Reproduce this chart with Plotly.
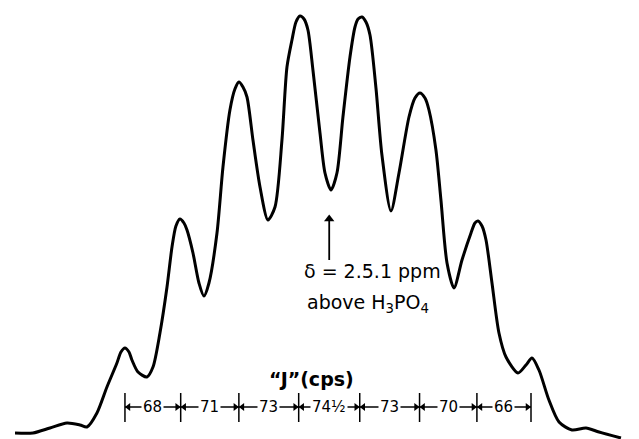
import plotly.graph_objects as go

# Traced 31P NMR multiplet: frequency offset (cps, from first marked line) and intensity (arb. units)
freq_cps = [-134.2, -112.3, -91.5, -70.8, -54.9, -46.4, -34.2, -22.0, -9.8, -4.9,
            0.0, 4.9, 8.5, 15.9, 26.8, 34.2, 42.7, 51.3, 57.4, 62.2,
            67.1, 72.0, 75.7, 83.0, 90.3, 96.4, 102.5, 112.3, 119.6, 128.1,
            134.2, 139.1, 144.0, 148.9, 156.2, 164.8, 174.5, 183.1, 191.6, 197.7,
            203.8, 208.7, 213.6, 218.5, 223.3, 229.4, 238.0, 244.1, 251.4, 258.7,
            266.0, 274.6, 280.7, 284.4, 289.3, 294.1, 299.0, 306.3, 313.6, 324.6,
            334.4, 346.6, 353.9, 360.0, 366.1, 371.0, 379.5, 385.6, 393.0, 401.5,
            411.3, 422.3, 427.1, 430.8, 435.7, 440.6, 447.9, 456.4, 465.0, 479.6,
            489.4, 496.7, 505.2, 517.4, 529.7, 545.5, 562.6, 578.5, 605.3]
intensity = [5, 5, 10, 15, 13, 11, 25, 51, 75, 86,
             90, 86, 78, 66, 61, 71, 105, 151, 191, 212,
             219, 215, 208, 185, 155, 142, 155, 205, 271, 328,
             349, 356, 351, 341, 298, 251, 218, 231, 298, 371,
             398, 416, 422, 419, 408, 368, 305, 265, 248, 265,
             321, 381, 411, 419, 421, 416, 403, 350, 283, 227,
             265, 321, 340, 345, 340, 328, 288, 238, 175, 150,
             178, 205, 215, 217, 212, 198, 155, 105, 81, 65,
             73, 80, 68, 38, 16, 8, 10, 6, 0]

J_values = [68, 71, 73, 74.5, 73, 70, 66]
J_labels = ["68", "71", "73", "74½", "73", "70", "66"]
shift_label = "δ = 2.5.1 ppm"
ref_label = "above H<sub>3</sub>PO<sub>4</sub>"
J_title = "“J”(cps)"

FONT = "DejaVu Sans"
CPS_PER_PX = 1.2204  # x scale of the plot area

fig = go.Figure()
fig.add_trace(go.Scatter(
    x=freq_cps, y=intensity, mode="lines",
    line=dict(color="black", width=3, shape="spline", smoothing=0.75),
    hoverinfo="skip", showlegend=False))

# J bar
ticks = [0.0]
for j in J_values:
    ticks.append(ticks[-1] + j)

bar_y, tick_lo, tick_hi = 31, 16, 45
shapes = [dict(type="line", x0=ticks[0], x1=ticks[-1], y0=bar_y, y1=bar_y,
               line=dict(color="black", width=1.3))]
for t in ticks:
    shapes.append(dict(type="line", x0=t, x1=t, y0=tick_lo, y1=tick_hi,
                       line=dict(color="black", width=1.5)))

# arrowheads pointing into each tick
ah_x, ah_sym = [], []
off = 3.5 * CPS_PER_PX
for i, t in enumerate(ticks):
    if i > 0:
        ah_x.append(t - off)
        ah_sym.append("triangle-right")
    if i < len(ticks) - 1:
        ah_x.append(t + off)
        ah_sym.append("triangle-left")
fig.add_trace(go.Scatter(
    x=ah_x, y=[bar_y] * len(ah_x), mode="markers",
    marker=dict(symbol=ah_sym, size=7, color="black", line=dict(width=0)),
    hoverinfo="skip", showlegend=False))

annotations = []
for i, lab in enumerate(J_labels):
    annotations.append(dict(x=(ticks[i] + ticks[i + 1]) / 2, y=bar_y, xref="x", yref="y",
                            text=lab, showarrow=False, bgcolor="white", borderpad=1,
                            font=dict(family=FONT, size=15, color="black")))

# chemical shift arrow (between the two central lines)
mid = (ticks[3] + ticks[4]) / 2
arrow_tip, arrow_tail = 223, 178
shapes.append(dict(type="line", x0=mid, x1=mid, y0=arrow_tail, y1=arrow_tip - 6,
                   line=dict(color="black", width=1.8)))
fig.add_trace(go.Scatter(
    x=[mid], y=[arrow_tip - 4], mode="markers",
    marker=dict(symbol="triangle-up", size=9, color="black", line=dict(width=0)),
    hoverinfo="skip", showlegend=False))

annotations.append(dict(x=302, y=167, xref="x", yref="y", text=shift_label,
                        showarrow=False, font=dict(family=FONT, size=19, color="black")))
annotations.append(dict(x=297, y=135, xref="x", yref="y", text=ref_label,
                        showarrow=False, font=dict(family=FONT, size=19, color="black")))
annotations.append(dict(x=228, y=59, xref="x", yref="y", text=J_title,
                        showarrow=False, font=dict(family=FONT, size=19, color="black",
                                                   weight="bold")))

fig.update_layout(
    width=639, height=439, margin=dict(l=0, r=0, t=0, b=0),
    paper_bgcolor="white", plot_bgcolor="white",
    xaxis=dict(range=[-152.5, 627.3], visible=False, fixedrange=True),
    yaxis=dict(range=[-1, 438], visible=False, fixedrange=True),
    shapes=shapes, annotations=annotations, showlegend=False)

fig.write_html("out.html")
